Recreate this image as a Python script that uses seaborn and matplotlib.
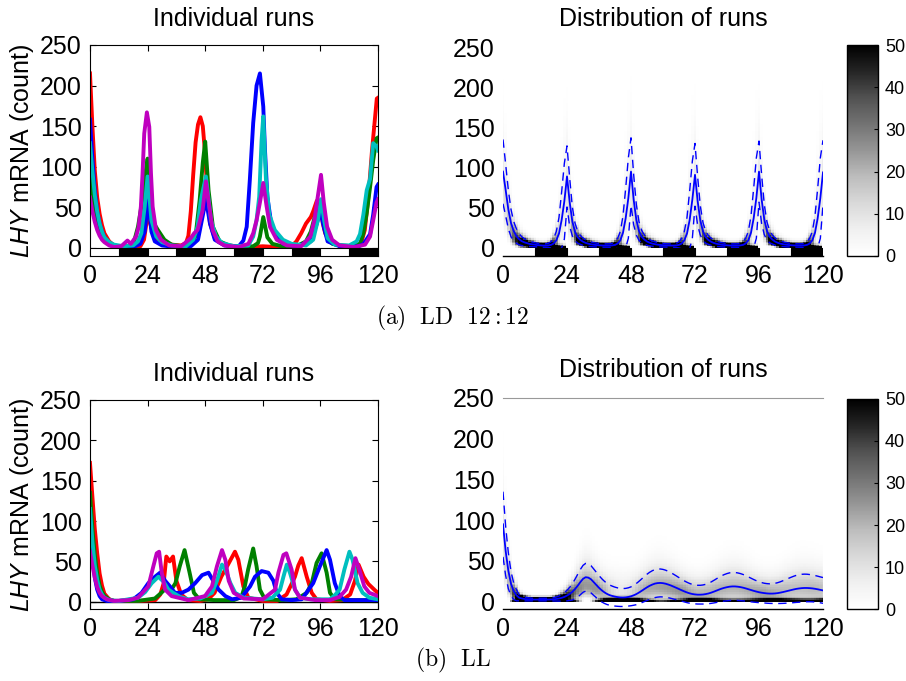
import numpy as np
import pandas as pd
import matplotlib
matplotlib.use("Agg")
import matplotlib.pyplot as plt
import seaborn as sns
from math import lgamma

plt.rcParams['font.family'] = ['Liberation Sans', 'DejaVu Sans']
plt.rcParams['mathtext.fontset'] = 'custom'
plt.rcParams['mathtext.rm'] = 'Liberation Sans'
plt.rcParams['mathtext.it'] = 'Liberation Sans:italic'

# ---------------- data ----------------
run_names = ["red", "green", "blue", "cyan", "magenta"]
run_colors = ["#ff0000", "#008000", "#0000ff", "#00bfbf", "#bf00bf"]

# LD 12:12 individual runs (time h, LHY count)
ld_red_t = [0, 1, 2, 3, 4, 5, 6, 8, 10, 14, 18, 21, 22.5, 23.5, 24.5, 25.5, 27, 28.5, 30, 32, 34, 38, 40, 41, 42, 43, 44, 45, 46, 47, 48, 49, 50, 52, 54, 57, 60, 66, 72, 78, 84, 86, 88, 90, 92, 93, 94.5, 96, 97, 98, 100, 104, 110, 113, 114.5, 116, 117.5, 119.5, 120]
ld_red_v = [215, 150, 95, 62, 42, 28, 18, 8, 3, 1, 1, 2, 10, 30, 38, 25, 12, 10, 9, 6, 4, 3, 6, 15, 45, 90, 130, 152, 161, 150, 115, 60, 30, 12, 7, 3, 2, 1, 2, 1, 2, 8, 18, 30, 38, 45, 58, 50, 30, 18, 7, 3, 2, 6, 22, 63, 120, 184, 185]
ld_green_t = [0, 1, 2, 3, 4, 5, 6, 8, 10, 14, 18, 20, 21.4, 23, 24, 25, 26.25, 28.3, 31, 34, 38, 42, 44, 45.7, 47, 48, 49.4, 51.2, 54, 58, 64, 68, 70, 70.8, 72.2, 73.9, 76, 80, 86, 90, 92, 94, 95, 96.5, 98, 101, 106, 110, 112.5, 113.9, 115.3, 116.7, 118, 119.4, 120]
ld_green_v = [95, 70, 48, 32, 22, 15, 10, 5, 2, 1, 4, 26, 51, 90, 110, 70, 32, 22, 10, 4, 2, 3, 15, 59, 105, 131, 71, 26, 8, 3, 1, 2, 6, 14, 38, 13, 5, 2, 2, 8, 20, 42, 55, 45, 20, 5, 2, 2, 5, 18, 43, 75, 108, 135, 136]
ld_blue_t = [0, 1, 2, 3, 4, 5, 6, 8, 10, 14, 18, 21, 22.8, 24.2, 25.6, 27, 30, 36, 42, 45, 47, 48.3, 50, 52, 56, 62, 63.9, 65.3, 66.6, 68, 69.4, 70.8, 72.2, 72.9, 73.9, 75.7, 77.8, 80.6, 86, 92, 94.5, 96, 97.5, 99, 104, 112, 114, 116.7, 118, 119.4, 120]
ld_blue_v = [158, 110, 70, 45, 30, 20, 13, 6, 3, 1, 1, 5, 20, 59, 20, 8, 3, 1, 2, 10, 40, 60, 30, 10, 3, 2, 9, 26, 84, 154, 200, 215, 174, 121, 63, 26, 14, 5, 2, 8, 30, 45, 25, 8, 2, 2, 5, 17, 41, 75, 78]
ld_cyan_t = [0, 1, 2, 3, 4, 5, 6, 8, 10, 14, 18, 20, 21.4, 22.8, 24, 25.6, 27.6, 30, 34, 40, 43, 44.8, 46.2, 48.3, 50.4, 52.5, 55, 60, 66, 68, 69.4, 70.5, 71.5, 72.2, 73.3, 74.7, 77, 80.4, 84, 90, 93, 95, 96.25, 97.5, 99, 102, 108, 111.1, 112.5, 113.9, 115.3, 116.7, 118, 119.4, 120]
ld_cyan_v = [129, 95, 65, 45, 30, 20, 13, 7, 4, 2, 3, 8, 18, 51, 88, 34, 14, 7, 3, 2, 10, 26, 59, 88, 34, 14, 6, 2, 3, 14, 34, 63, 133, 162, 85, 41, 22, 10, 5, 3, 10, 35, 60, 35, 12, 4, 3, 8, 17, 41, 71, 85, 129, 125, 120]
ld_mag_t = [0, 1, 2, 3, 4, 5, 6, 8, 10, 13, 15.6, 17, 19.2, 20.3, 21.2, 21.9, 22.6, 23.7, 24.7, 25.4, 26.1, 27.5, 29.6, 33, 38, 42, 43.4, 44.8, 46.9, 48.3, 49.7, 51.1, 53.2, 56, 62, 66, 68, 69.4, 70.8, 72.2, 73.6, 75, 77.8, 82, 88, 91.8, 93.5, 94.9, 96.25, 97.4, 98.8, 100.9, 104, 110, 114.6, 116.7, 118, 119.4, 120]
ld_mag_v = [62, 45, 32, 22, 15, 10, 7, 3, 1, 2, 9, 5, 14, 26, 51, 92, 141, 167, 149, 92, 51, 22, 10, 3, 2, 12, 18, 22, 46, 82, 51, 22, 8, 3, 1, 5, 18, 34, 56, 80, 51, 26, 10, 3, 2, 14, 34, 63, 90, 56, 26, 10, 3, 1, 4, 14, 34, 56, 60]

# LL individual runs
ll_red_t = [0, 1, 2, 3, 4, 5, 6, 8, 10, 20, 27.2, 29.3, 30.7, 31.8, 33.2, 34.6, 36, 38, 40.8, 46, 49.2, 51.9, 54.7, 57.5, 60.4, 61.8, 63.9, 66, 72, 78, 81.9, 84, 85.4, 86.8, 88.2, 90.3, 92.4, 94.4, 100, 105, 108.4, 110.4, 111.9, 114, 116, 118.8, 120]
ll_red_v = [172, 130, 90, 60, 35, 20, 10, 3, 1, 1, 2, 9, 23, 56, 50, 56, 26, 9, 2, 1, 3, 11, 31, 46, 62, 52, 19, 5, 1, 1, 9, 22, 31, 45, 54, 31, 11, 3, 1, 2, 9, 26, 46, 31, 22, 14, 11]
ll_green_t = [0, 1, 2, 3, 4, 5, 6, 8, 10, 20, 27, 29.7, 31.1, 33.9, 35.6, 37.4, 39.4, 41.5, 43.3, 45.6, 52, 60, 63.1, 64.5, 65.9, 68, 69.4, 70.8, 72.9, 80, 86, 90.3, 92.4, 94.4, 96.5, 98.6, 100, 102, 110, 120]
ll_green_v = [135, 90, 58, 35, 20, 12, 7, 3, 1, 1, 4, 11, 15, 15, 23, 44, 64, 36, 11, 3, 2, 2, 6, 19, 40, 66, 44, 15, 3, 2, 3, 11, 23, 48, 60, 36, 11, 3, 2, 2]
ll_blue_t = [0, 1, 2, 3, 4, 5, 7, 12, 18, 21.5, 24.3, 27.1, 29.2, 31.3, 33.3, 35.4, 38.2, 41, 43.8, 46.7, 49.4, 51.5, 53.6, 56.4, 59.2, 63, 66.7, 68.75, 71.5, 74.3, 76.4, 77.8, 79.9, 84, 88.2, 93, 95.8, 98.6, 100, 102, 104, 106, 112, 120]
ll_blue_v = [90, 55, 30, 15, 7, 3, 1, 1, 3, 11, 23, 31, 36, 26, 19, 11, 11, 15, 23, 33, 36, 25, 15, 7, 3, 5, 19, 31, 38, 36, 26, 11, 3, 2, 3, 23, 44, 64, 52, 23, 7, 2, 2, 2]
ll_cyan_t = [0, 1, 2, 3, 4, 5, 6, 8, 12, 20, 23, 25.7, 28.5, 30.6, 32.7, 34.7, 37.5, 41, 46, 50.8, 52.9, 55, 56.4, 58.5, 60.5, 64, 72, 76, 79.2, 80.6, 82, 83.3, 85.4, 87.5, 92, 100, 102, 104, 106, 108.1, 109.4, 111.5, 113.6, 116.4, 120]
ll_cyan_v = [115, 75, 45, 27, 15, 9, 5, 2, 1, 5, 12, 23, 31, 25, 15, 11, 6, 3, 4, 11, 26, 46, 40, 23, 11, 5, 3, 5, 15, 31, 46, 36, 15, 5, 3, 3, 8, 15, 40, 62, 52, 23, 11, 5, 3]
ll_mag_t = [0, 1, 2, 3, 4, 5, 7, 10, 16, 20, 24.3, 26.4, 27.8, 28.8, 29.9, 31.3, 34, 41, 47.9, 50.8, 52.9, 55, 56.4, 57.8, 59.9, 64, 72, 77.1, 78.5, 80.6, 81.8, 84, 85.4, 87.5, 94, 100, 104, 106.7, 108.8, 110.6, 112.2, 114.3, 116.4, 120]
ll_mag_v = [62, 45, 30, 18, 11, 7, 3, 1, 2, 5, 19, 44, 60, 62, 36, 15, 7, 2, 7, 19, 44, 64, 52, 26, 11, 4, 3, 15, 36, 58, 60, 40, 15, 5, 2, 2, 6, 15, 31, 54, 40, 19, 11, 7]

# Distribution of runs: hourly mean and standard deviation (0..120 h)
hours = list(range(121))
mean_ld = [95, 72, 48, 31, 21, 15, 11, 8.5, 7, 6, 5, 4.5, 4, 3.5, 3.2, 3, 3, 3.2, 3.8, 5.5, 9.5, 18, 35, 58,
           89, 57, 33, 20, 13.5, 10, 7.8, 6.3, 5.3, 4.6, 4, 3.6, 3.3, 3.1, 3, 3, 3, 3.2, 3.8, 5.5, 9.5, 19, 37, 62,
           95, 60, 35, 21, 14, 10.5, 8, 6.5, 5.4, 4.7, 4.1, 3.7, 3.4, 3.2, 3.1, 3, 3, 3.2, 3.8, 5.5, 9.5, 18, 35, 60,
           91, 58, 34, 20.5, 13.5, 10, 7.8, 6.3, 5.3, 4.6, 4, 3.6, 3.3, 3.1, 3, 3, 3, 3.2, 3.8, 5.5, 9.5, 19, 37, 62,
           95, 60, 35, 21, 14, 10.5, 8, 6.5, 5.4, 4.7, 4.1, 3.7, 3.4, 3.2, 3.1, 3, 3, 3.2, 3.8, 5.5, 9.5, 19, 37, 62,
           94]
sd_ld = [40, 32, 24, 17, 12, 9, 7, 5.5, 4.5, 3.8, 3.2, 2.8, 2.5, 2.2, 2.1, 2.1, 2.2, 2.6, 3.8, 6.5, 11, 20, 35, 47,
         38, 30, 18, 11, 7.5, 5.5, 4.5, 3.8, 3.3, 2.9, 2.6, 2.4, 2.2, 2.1, 2.1, 2.1, 2.2, 2.6, 3.8, 6.5, 11, 21, 37, 50,
         42, 31, 19, 11.5, 7.8, 5.7, 4.6, 3.8, 3.3, 2.9, 2.6, 2.4, 2.2, 2.1, 2.1, 2.1, 2.2, 2.6, 3.8, 6.5, 11, 20, 36, 48,
         39, 30, 18, 11, 7.5, 5.5, 4.5, 3.8, 3.3, 2.9, 2.6, 2.4, 2.2, 2.1, 2.1, 2.1, 2.2, 2.6, 3.8, 6.5, 11, 21, 37, 50,
         38, 30, 18.5, 11.2, 7.6, 5.6, 4.5, 3.8, 3.3, 2.9, 2.6, 2.4, 2.2, 2.1, 2.1, 2.1, 2.2, 2.6, 3.8, 6.5, 11, 21, 37, 50,
         40]
mean_ll = [95, 62, 38, 22, 13, 8, 5, 4, 3.3, 3, 2.8, 2.6, 2.6, 2.6, 2.6, 2.6, 2.6, 2.6, 2.7, 2.9, 3.3, 3.9, 4.7, 5.8,
           7.5, 9.5, 12, 15.5, 19.5, 24, 28, 30, 29.5, 27.5, 24, 20.5, 17, 14, 11.5, 9.5, 8, 7, 6.2, 5.6, 5.2, 5.1, 5.3, 5.8,
           6.6, 7.8, 9.3, 11.2, 13.3, 15.5, 17.6, 19.5, 21, 22.2, 22.8, 23, 22.7, 22, 21, 19.8, 18.4, 17, 15.5, 14, 12.6, 11.3, 10.2, 9.4,
           8.9, 8.6, 8.6, 8.8, 9.3, 10, 11, 12.2, 13.5, 14.8, 16, 17, 17.8, 18.4, 18.7, 18.7, 18.4, 17.9, 17.2, 16.3, 15.3, 14.3, 13.3, 12.4,
           11.6, 11, 10.5, 10.1, 9.9, 9.9, 10.1, 10.5, 11.1, 11.8, 12.6, 13.4, 14.2, 15, 15.7, 16.2, 16.6, 16.8, 16.8, 16.6, 16.3, 15.8, 15.2, 14.5,
           13.8]
sd_ll = [40, 30, 22, 15, 10, 7, 4, 3, 2.4, 2, 1.8, 1.6, 1.6, 1.6, 1.6, 1.6, 1.6, 1.6, 1.7, 2, 2.5, 3.2, 4, 5,
         6.5, 8, 10, 12, 14, 15.5, 16.5, 17, 17, 16.7, 16.2, 15.6, 15, 14.3, 13.6, 13, 12.4, 12, 11.6, 11.3, 11.1, 11, 11, 11.2,
         11.6, 12.2, 13, 13.8, 14.6, 15.4, 16.1, 16.6, 17, 17.2, 17.2, 17.1, 16.9, 16.6, 16.2, 15.7, 15.2, 14.6, 14, 13.4, 12.9, 12.5, 12.1, 11.8,
         11.6, 11.5, 11.5, 11.7, 12, 12.5, 13.1, 13.8, 14.5, 15.2, 15.8, 16.3, 16.7, 17, 17.1, 17.1, 16.9, 16.6, 16.2, 15.7, 15.1, 14.5, 13.9, 13.3,
         12.8, 12.4, 12.1, 12, 12, 12.1, 12.4, 12.8, 13.3, 13.9, 14.5, 15.1, 15.7, 16.2, 16.6, 16.9, 17, 17, 16.9, 16.7, 16.5, 16.3, 16.1, 15.9,
         15.8]

# light/dark schedule (h)
light_starts = [0, 24, 48, 72, 96]
dark_starts = [12, 36, 60, 84, 108]
phase_len = 12

x_ticks = [0, 24, 48, 72, 96, 120]
y_ticks = [0, 50, 100, 150, 200, 250]
cbar_ticks = [0, 10, 20, 30, 40, 50]

N_RUNS = 450
BIN_H = 2.0

# ---------------- helpers ----------------
def runs_frame(runs):
    rows = []
    for name, (t, v) in zip(run_names, runs):
        for ti, vi in zip(t, v):
            rows.append((name, ti, vi))
    return pd.DataFrame(rows, columns=["run", "t", "v"])


def gamma_pdf(v, k, theta):
    return np.exp((k - 1) * np.log(v) - v / theta - lgamma(k) - k * np.log(theta))


def density_table(mean, sd):
    v_centers = np.arange(BIN_H / 2, 250, BIN_H)
    rows = []
    k_on, a_off = 3.0, 2.0
    for t, m, s in zip(hours, mean, sd):
        mu_on = (s * s + m * m) / (m * (1 + 1 / k_on))
        q = m / mu_on
        if q >= 1:
            k = (m / s) ** 2
            pdf = gamma_pdf(v_centers, k, s * s / m)
        else:
            pdf = q * gamma_pdf(v_centers, k_on, mu_on / k_on) + (1 - q) * np.exp(-v_centers / a_off) / a_off
        w = N_RUNS * BIN_H * pdf
        for vc, wi in zip(v_centers, w):
            rows.append((t, vc, wi))
    return pd.DataFrame(rows, columns=["t", "v", "w"])


def draw_ld_bar(ax, outline_light=True):
    ax.broken_barh([(s, phase_len) for s in dark_starts], (-10, 10), facecolors="k",
                   edgecolors="k", lw=0.8, zorder=4)
    if outline_light:
        ax.broken_barh([(s, phase_len) for s in light_starts], (-10, 10), facecolors="w",
                       edgecolors="k", lw=0.8, zorder=4)


def style_individual(ax, ylim):
    ax.set_xlim(0, 120)
    ax.set_ylim(*ylim)
    ax.set_xticks(x_ticks)
    ax.set_yticks(y_ticks)
    ax.tick_params(direction="in", top=True, right=True, bottom=True, left=True,
                   length=4, width=0.8, labelsize=18, pad=6)
    for sp in ax.spines.values():
        sp.set_color("k")
        sp.set_linewidth(0.8)
    ax.set_xlabel("")
    ax.set_ylabel(r"$\it{LHY}$ mRNA (count)", fontsize=18)
    ax.yaxis.set_label_coords(-0.186, 0.5)
    ax.set_title("Individual runs", fontsize=18, pad=14)


def style_dist(ax, ylim, top_line=False):
    ax.set_xlim(0, 120)
    ax.set_ylim(*ylim)
    ax.set_xticks(x_ticks)
    ax.set_yticks(y_ticks)
    ax.tick_params(length=0, labelsize=18, pad=6)
    for name, sp in ax.spines.items():
        sp.set_visible(name == "bottom" or (top_line and name == "top"))
    ax.spines["bottom"].set_color("k")
    ax.spines["bottom"].set_linewidth(1.0)
    ax.spines["top"].set_color("0.6")
    ax.spines["top"].set_linewidth(0.8)
    ax.set_xlabel("")
    ax.set_ylabel("")
    ax.set_title("Distribution of runs", fontsize=18, pad=15)


def draw_distribution(ax, cax, mean, sd):
    dens = density_table(mean, sd)
    t_edges = np.arange(-0.5, 121, 1.0)
    v_edges = np.arange(0, 250 + BIN_H, BIN_H)
    sns.histplot(data=dens, x="t", y="v", weights="w", bins=[t_edges, v_edges],
                 cmap="Greys", vmin=0, vmax=50, cbar=False, ax=ax, zorder=1)
    mesh = ax.collections[-1]
    mesh.set_clim(0, 50)
    m = np.asarray(mean)
    s = np.asarray(sd)
    lines = pd.DataFrame({"t": hours, "mean": m, "upper": m + s, "lower": m - s})
    sns.lineplot(data=lines, x="t", y="mean", color="#0000ff", lw=1.3, ax=ax, zorder=3)
    sns.lineplot(data=lines, x="t", y="upper", color="#0000ff", lw=1.0,
                 linestyle=(0, (6, 4)), ax=ax, zorder=3)
    sns.lineplot(data=lines, x="t", y="lower", color="#0000ff", lw=1.0,
                 linestyle=(0, (6, 4)), ax=ax, zorder=3)
    cb = fig.colorbar(mesh, cax=cax, ticks=cbar_ticks)
    cb.outline.set_edgecolor("k")
    cb.outline.set_linewidth(1.0)
    cax.tick_params(direction="in", length=3, width=0.8, labelsize=13, pad=5, colors="k")


# ---------------- figure ----------------
W, H = 906, 681
fig = plt.figure(figsize=(W / 100, H / 100), dpi=100)


def box(x0, y0, x1, y1):
    return [x0 / W, 1 - y1 / H, (x1 - x0) / W, (y1 - y0) / H]


ax_a1 = fig.add_axes(box(90, 45, 378, 256))
ax_a2 = fig.add_axes(box(503, 47, 823, 256))
cax_a = fig.add_axes(box(847, 45, 878, 256))
ax_b1 = fig.add_axes(box(90, 400, 378, 609))
ax_b2 = fig.add_axes(box(503, 398, 823, 609))
cax_b = fig.add_axes(box(847, 399, 878, 609))

ld_runs = [(ld_red_t, ld_red_v), (ld_green_t, ld_green_v), (ld_blue_t, ld_blue_v),
           (ld_cyan_t, ld_cyan_v), (ld_mag_t, ld_mag_v)]
ll_runs = [(ll_red_t, ll_red_v), (ll_green_t, ll_green_v), (ll_blue_t, ll_blue_v),
           (ll_cyan_t, ll_cyan_v), (ll_mag_t, ll_mag_v)]

# (a) LD individual
sns.lineplot(data=runs_frame(ld_runs), x="t", y="v", hue="run", hue_order=run_names,
             palette=run_colors, estimator=None, lw=2.8, legend=False, ax=ax_a1, zorder=2)
draw_ld_bar(ax_a1)
style_individual(ax_a1, (-10, 250))

# (a) LD distribution
draw_distribution(ax_a2, cax_a, mean_ld, sd_ld)
draw_ld_bar(ax_a2, outline_light=False)
style_dist(ax_a2, (-10, 250))

# (b) LL individual
sns.lineplot(data=runs_frame(ll_runs), x="t", y="v", hue="run", hue_order=run_names,
             palette=run_colors, estimator=None, lw=2.8, legend=False, ax=ax_b1, zorder=2)
ax_b1.axhline(0, color="k", lw=1.0, zorder=1)
style_individual(ax_b1, (-9, 250))

# (b) LL distribution
draw_distribution(ax_b2, cax_b, mean_ll, sd_ll)
style_dist(ax_b2, (-9, 250), top_line=True)

fig.text(0.5, 1 - 324 / H, r"$\mathrm{(a)\ \ LD\ \ 12{:}12}$", math_fontfamily="cm",
         fontsize=17, ha="center", va="baseline")
fig.text(0.5, 1 - 666 / H, r"$\mathrm{(b)\ \ LL}$", math_fontfamily="cm",
         fontsize=17, ha="center", va="baseline")

fig.savefig("out.png", dpi=100, facecolor="white")
